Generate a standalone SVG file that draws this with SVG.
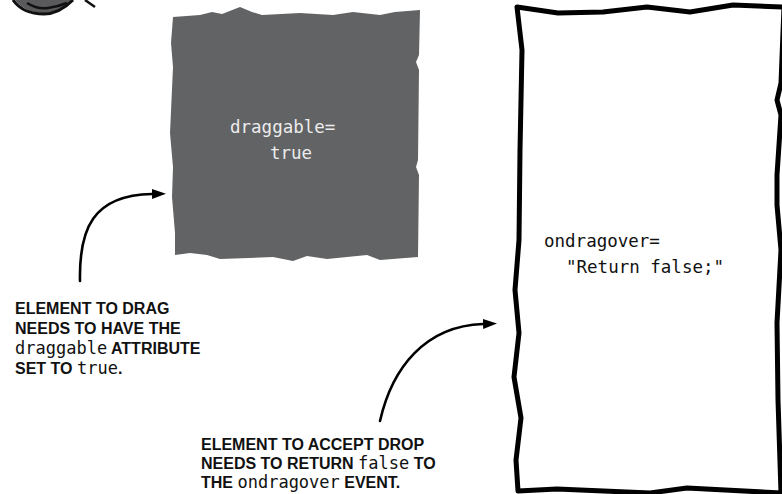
<svg xmlns="http://www.w3.org/2000/svg" width="782" height="494" viewBox="0 0 782 494">
  <style>
    .note { font-family: "Liberation Sans", "DejaVu Sans", sans-serif; font-weight: bold; font-size: 16px; fill: #111; }
    .code { font-family: "DejaVu Sans Mono", "Liberation Mono", monospace; font-weight: normal; font-size: 17px; }
    .label { font-family: "DejaVu Sans Mono", "Liberation Mono", monospace; font-size: 17.5px; }
    .connector { fill: none; stroke: #000; stroke-width: 2.6; stroke-linecap: round; }
  </style>
  <defs>
    <marker id="arrowhead" viewBox="0 0 14 10" refX="0" refY="5" markerWidth="14" markerHeight="10" markerUnits="userSpaceOnUse" orient="auto">
      <path d="M0,0 L14,5 L0,10 Z" fill="#000"/>
    </marker>
  </defs>

  <rect width="782" height="494" fill="#fff"/>

  <!-- partial eye cut off at the top edge -->
  <g id="eye">
    <path d="M15,0 C22,9 32,13 44,13 C56,13 65,7 72,0 Z" fill="#5a5a5c"/>
    <path d="M13,0 C20,10 32,14 44,14 C57,14 66,7 73,0" fill="none" stroke="#111" stroke-width="3"/>
    <path d="M27,3 C35,8 42,9 48,8 C56,7 62,5 67,3" fill="none" stroke="#111" stroke-width="2.5"/>
    <path d="M85,0 L95,7" fill="none" stroke="#111" stroke-width="2.5"/>
  </g>

  <!-- draggable element: solid grey torn-paper block -->
  <g id="drag-source">
    <path d="M173,17 L200,15 L212,12 L222,14 L240,7 L252,12 L262,15 L300,13 L333,15 L353,12 L380,15 L395,12 L420,10 L419,55 L416,62 L419,70 L418,160 L416,167 L419,175 L418,257 L380,260 L367,255 L327,259 L307,256 L293,261 L273,257 L220,259 L207,255 L190,253 L175,255 L175,233 L172,197 L173,167 L170,133 L173,67 L171,43 Z" fill="#626365"/>
    <text class="label" fill="#ececec" x="230" y="133">draggable=</text>
    <text class="label" fill="#ececec" x="270" y="159">true</text>
  </g>

  <!-- drop target: hand-drawn outlined box -->
  <g id="drop-target">
    <path d="M517,7 L558,13 L603,12 L647,7 L690,12 L733,5 L784,7 L781,83 L777,100 L781,115 L777,175 L777,205 L781,250 L777,323 L778,400 L781,493 L687,488 L650,493 L557,489 L518,491 L516,460 L521,418 L514,377 L519,333 L515,290 L519,240 L520,150 L522,50 Z" fill="#fff" stroke="#000" stroke-width="5" stroke-linejoin="round"/>
    <text class="label" fill="#111" x="544" y="247">ondragover=</text>
    <text class="label" fill="#111" x="566" y="273">"Return false;"</text>
  </g>

  <!-- annotations -->
  <g id="note-drag">
    <text class="note" x="15" y="314">ELEMENT TO DRAG</text>
    <text class="note" x="15" y="334">NEEDS TO HAVE THE</text>
    <text class="note" x="15" y="354"><tspan class="code">draggable</tspan> ATTRIBUTE</text>
    <text class="note" x="15" y="374">SET TO <tspan class="code">true</tspan>.</text>
  </g>

  <g id="note-drop">
    <text class="note" x="201" y="450">ELEMENT TO ACCEPT DROP</text>
    <text class="note" x="201" y="469">NEEDS TO RETURN <tspan class="code">false</tspan> TO</text>
    <text class="note" x="201" y="488">THE <tspan class="code">ondragover</tspan>  EVENT.</text>
  </g>

  <!-- connectors -->
  <g id="connectors">
    <path class="connector" d="M80,281 C79,230 92,195 152,194" marker-end="url(#arrowhead)"/>
    <path class="connector" d="M380,421 C392,368 425,326 483,324" marker-end="url(#arrowhead)"/>
  </g>
</svg>
